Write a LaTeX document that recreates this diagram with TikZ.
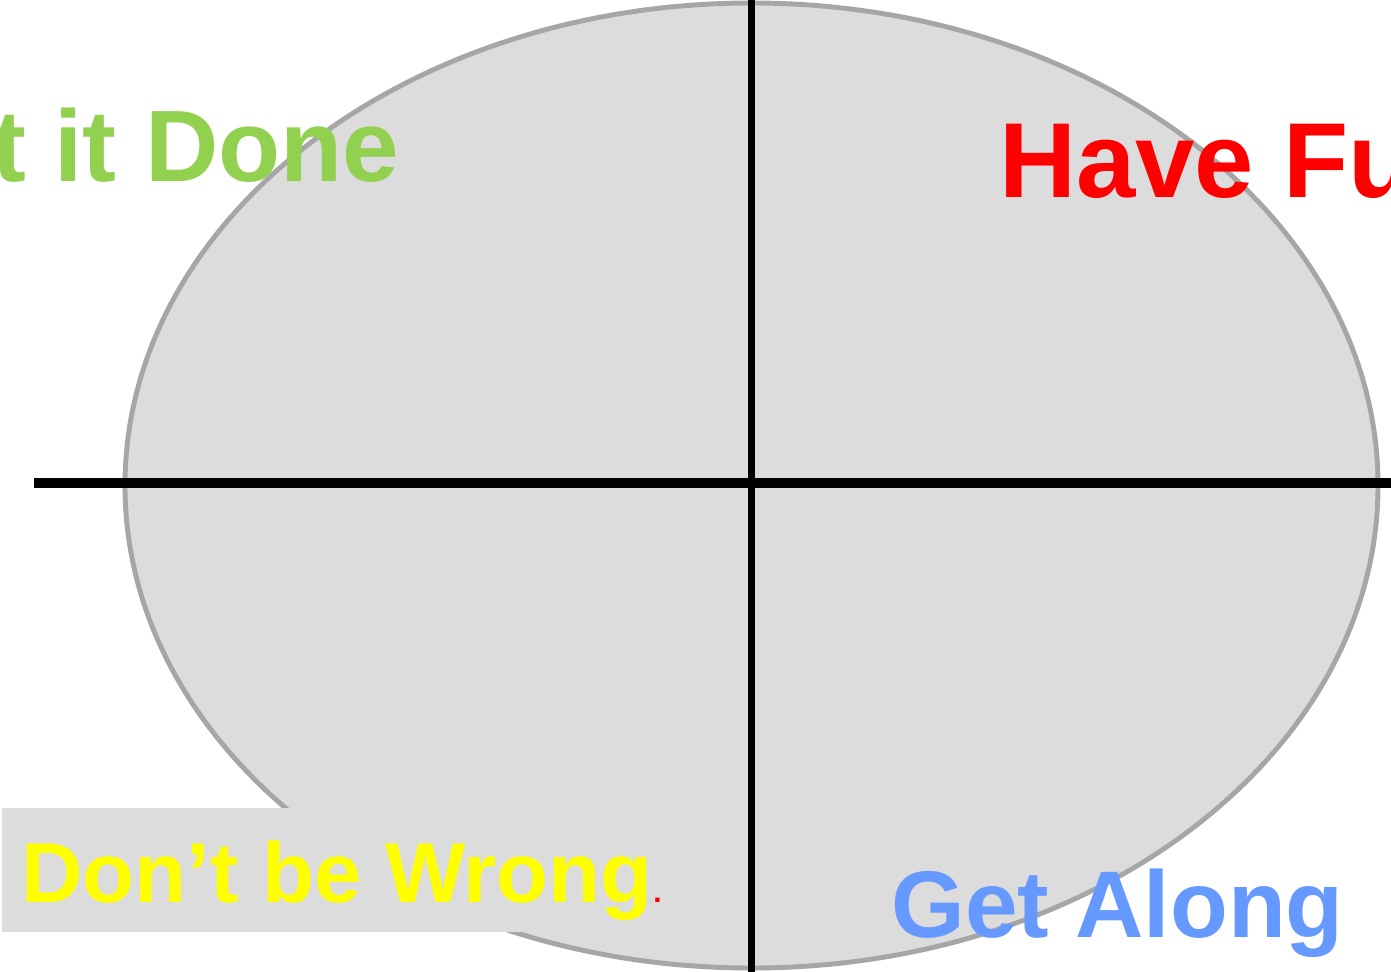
\documentclass[tikz,border=0pt]{standalone}
\usepackage{fontspec}
\setmainfont{Liberation Sans}
\usetikzlibrary{positioning}
\definecolor{cgreen}{HTML}{92D050}
\definecolor{cred}{HTML}{FF0000}
\definecolor{cblue}{HTML}{6699FF}
\definecolor{cyellow}{HTML}{FFFF00}
\definecolor{cfill}{HTML}{DCDCDC}
\definecolor{cedge}{HTML}{A6A6A6}
\tikzset{
  every picture/.style={x=0.02cm, y=-0.02cm},
  quad/.style={anchor=base west, inner sep=0pt, text=#1},
  axis/.style={draw=black, line width=#1},
}
\begin{document}
\begin{tikzpicture}
  \clip (0,0) rectangle (1391,972);
  \draw[fill=cfill, draw=cedge, line width=2.8pt] (751.5,485.5) ellipse [x radius=626.5, y radius=482.5];
  \fill[cfill] (2,808) rectangle (690,932);
  \coordinate (left) at (34,483);
  \coordinate (right) at (1391,483);
  \coordinate (top) at (751.5,0);
  \coordinate (bottom) at (751.5,972);
  \draw[axis=3.8pt] (top) -- (bottom);
  \draw[axis=5.7pt] (left) -- (right);
  \node[quad=cgreen, font=\bfseries\fontsize{57.8}{60}\selectfont] (done) at (-143,182) {Get it Done};
  \node[quad=cred, font=\bfseries\fontsize{60.7}{63}\selectfont] (fun) at (999,198) {Have Fun};
  \node[quad=cblue, font=\bfseries\fontsize{53.9}{56}\selectfont] (along) at (891,937) {Get Along};
  \node[quad=cyellow, font=\bfseries\fontsize{48.4}{50}\selectfont] (wrong) at (21,902) {Don’t be Wrong};
  \node[quad=cred, font=\bfseries\fontsize{17}{19}\selectfont] (dot) at (wrong.base east) {.};
\end{tikzpicture}
\end{document}
